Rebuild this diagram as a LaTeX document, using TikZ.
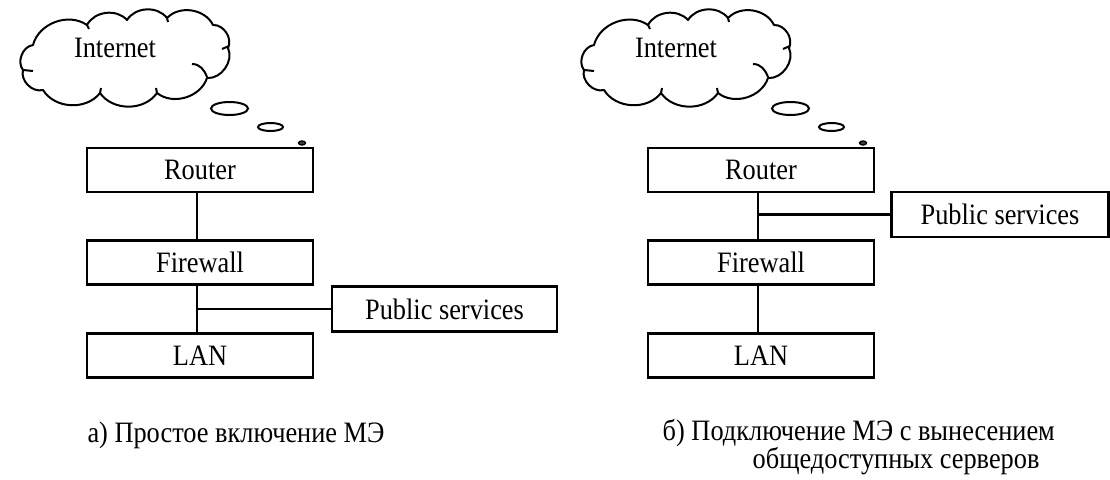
\documentclass[tikz,border=0pt]{standalone}
\usepackage{fontspec}
\setmainfont{Liberation Serif}[FakeStretch=0.89]
\begin{document}
\begin{tikzpicture}[x=0.75pt,y=-0.75pt,
  txt/.style={font=\fontsize{22.2pt}{21pt}\selectfont},
  box/.style={draw, line width=1.6pt, inner sep=0pt, minimum width=169.5pt, minimum height=33pt, txt},
  pubbox/.style={box, minimum width=168.75pt, minimum height=33.75pt},
  wire/.style={line width=1.6pt},
  cl/.style={line width=1.5pt},
  netcloud/.pic={
    \draw[cl, line join=round]
      (33,45) to[bend right=60] (23,70) to[bend right=60] (43,90)
      to[bend right=55] (100,93) to[bend right=55] (157,93)
      to[bend right=55] (207,78) to[bend right=60] (228,48)
      to[bend right=60] (213,25) to[bend right=55] (167,18)
      to[bend right=55] (127,20) to[bend right=55] (87,25)
      to[bend right=55] (33,45) -- cycle;
    \draw[cl] (192,64) to[out=0,in=110] (207,77);
    \draw[cl] (23,70) to[out=0,in=180] (33,71);
    \draw[cl] (222,49) to[out=20,in=200] (229,46);
    \draw[cl] (87,25) -- (89,29);
    \draw[cl] (100,93) -- (101,88);
    \draw[cl] (157,93) -- (156,88);
    \draw[cl] (167,18) -- (168,22);
    \node[txt, anchor=base] (-txt) at (115,57) {Internet};
    \draw[cl] (229.5,108.5) ellipse [x radius=18.5, y radius=6.5];
    \draw[cl] (270.5,127) ellipse [x radius=12.5, y radius=4];
    \filldraw[line width=1pt, fill=black!75] (302,143) ellipse [x radius=3.5, y radius=2];
  }]
\useasboundingbox (0,0) rectangle (1110,479);

% ---- left diagram ----
\pic (cl) at (0,0) {netcloud};
\node[box] (r1) at (200,170) {Router};
\node[box] (f1) at (200,262.5) {Firewall};
\node[box] (l1) at (200,355.5) {LAN};
\node[pubbox] (p1) at (444.5,309) {Public services};
\coordinate (j1) at ([xshift=-2.25pt]f1.south);
\draw[wire] ([xshift=-2.25pt]r1.south) -- ([xshift=-2.25pt]f1.north);
\draw[wire] (j1) -- ([xshift=-2.25pt]l1.north);
\draw[wire] (p1.west) -- (p1.west -| j1);
\node[txt, anchor=base] (c1) at (236,442) {а) Простое включение МЭ};

% ---- right diagram ----
\pic (cr) at (561,0) {netcloud};
\node[box] (r2) at (761,170) {Router};
\node[box] (f2) at (761,262.5) {Firewall};
\node[box] (l2) at (761,355.5) {LAN};
\node[pubbox, minimum width=162.75pt] (p2) at (1000,214.5) {Public services};
\coordinate (j2) at ([xshift=-2.25pt]r2.south);
\draw[wire] (j2) -- ([xshift=-2.25pt]f2.north);
\draw[wire] ([xshift=-2.25pt]f2.south) -- ([xshift=-2.25pt]l2.north);
\draw[wire] (p2.west) -- (p2.west -| j2);
\node[txt, anchor=base west, align=left] (c2) at (658,468) {б) Подключение МЭ с вынесением\\\hspace*{67.5pt}общедоступных серверов};
\end{tikzpicture}
\end{document}
